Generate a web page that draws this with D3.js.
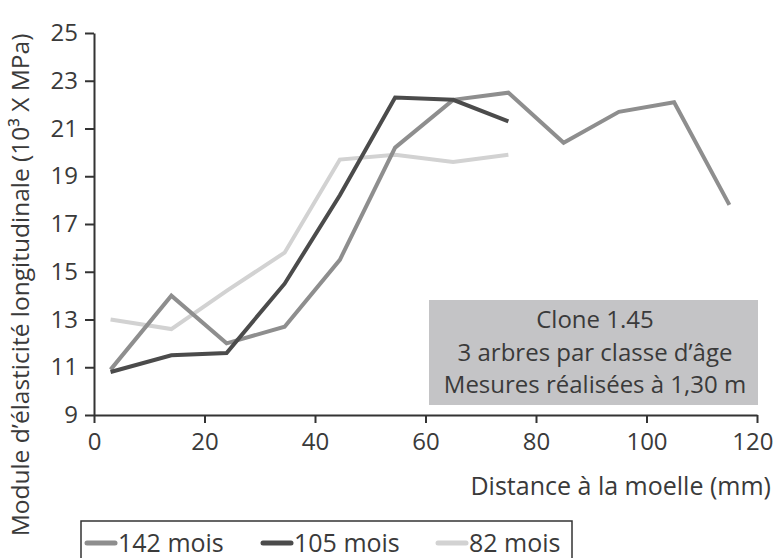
<!DOCTYPE html>
<html lang="fr">
<head>
<meta charset="utf-8">
<script src="https://cdn.jsdelivr.net/npm/d3@7"></script>
<style>
  body { margin: 0; background: #fff; }
  svg text { font-family: "Open Sans", "Noto Sans", sans-serif; fill: #3a3a3a; }
  .axis path, .axis line { stroke: #333; stroke-width: 2px; }
</style>
</head>
<body>
<div id="chart"></div>
<script>
// distances from the pith (mm)
var distances = [3, 14, 24, 34.5, 44.5, 54.5, 65, 75, 85, 95, 105, 115];
// modulus of elasticity (10^3 MPa) per age class
var mod142 = [10.9, 14.0, 12.0, 12.7, 15.5, 20.2, 22.2, 22.5, 20.4, 21.7, 22.1, 17.8];
var mod105 = [10.8, 11.5, 11.6, 14.5, 18.2, 22.3, 22.2, 21.3];
var mod82  = [13.0, 12.6, 14.2, 15.8, 19.7, 19.9, 19.6, 19.9];
var seriesNames = ["142 mois", "105 mois", "82 mois"];
var seriesColors = ["#8e8e8e", "#4b4b4b", "#d2d2d2"];
var xTicks = [0, 20, 40, 60, 80, 100, 120];
var yTicks = [9, 11, 13, 15, 17, 19, 21, 23, 25];
var noteLines = ["Clone 1.45", "3 arbres par classe d\u2019\u00e2ge", "Mesures r\u00e9alis\u00e9es \u00e0 1,30 m"];

var W = 774, H = 558;
var svg = d3.select("#chart").append("svg")
    .attr("width", W)
    .attr("height", H);

// plot area in page pixels
var x = d3.scaleLinear().domain([0, 120]).range([94, 757]);
var y = d3.scaleLinear().domain([9, 25]).range([415, 33]);

// annotation box (drawn under the lines)
var box = svg.append("g");
box.append("rect")
    .attr("x", 429).attr("y", 300)
    .attr("width", 329).attr("height", 105)
    .attr("fill", "#c4c4c6");
box.selectAll("text")
    .data(noteLines)
    .enter().append("text")
    .attr("x", 595)
    .attr("y", function(d, i) { return 328 + i * 32.5; })
    .attr("text-anchor", "middle")
    .style("font-size", "24px")
    .text(function(d) { return d; });

// axes
var xAxis = svg.append("g")
    .attr("class", "axis")
    .attr("transform", "translate(0,415)")
    .call(d3.axisBottom(x).tickValues(xTicks).tickSize(8).tickSizeOuter(0).tickPadding(10));
xAxis.selectAll("text").style("font-size", "24px");
// last label sits against the page edge
xAxis.selectAll(".tick").filter(function(d) { return d === 120; })
    .select("text").attr("text-anchor", "end").attr("x", 16);

var yAxis = svg.append("g")
    .attr("class", "axis")
    .attr("transform", "translate(94,0)")
    .call(d3.axisLeft(y).tickValues(yTicks).tickSize(9).tickSizeOuter(0).tickPadding(7));
yAxis.selectAll("text").style("font-size", "24px");

// lines
var series = [mod142, mod105, mod82].map(function(vals, i) {
    return {
        name: seriesNames[i],
        color: seriesColors[i],
        points: vals.map(function(v, j) { return [distances[j], v]; })
    };
});

var line = d3.line()
    .x(function(d) { return x(d[0]); })
    .y(function(d) { return y(d[1]); });

// draw light first, dark on top like the print
svg.append("g").selectAll("path")
    .data([series[2], series[0], series[1]])
    .enter().append("path")
    .attr("d", function(d) { return line(d.points); })
    .attr("fill", "none")
    .attr("stroke", function(d) { return d.color; })
    .attr("stroke-width", 4)
    .attr("stroke-linejoin", "miter");

// axis titles
svg.append("text")
    .attr("x", 771)
    .attr("y", 495)
    .attr("text-anchor", "end")
    .style("font-size", "25px")
    .text("Distance \u00e0 la moelle (mm)");

svg.append("text")
    .attr("transform", "translate(29,285) rotate(-90)")
    .attr("text-anchor", "middle")
    .style("font-size", "24.5px")
    .text("Module d\u2019\u00e9lasticit\u00e9 longitudinale (10\u00b3 X MPa)");

// legend
var legend = svg.append("g");
legend.append("rect")
    .attr("x", 81).attr("y", 521)
    .attr("width", 491).attr("height", 45)
    .attr("fill", "none")
    .attr("stroke", "#333")
    .attr("stroke-width", 1.5);

var legendX = [87, 263, 438];
var item = legend.selectAll("g.item")
    .data(series)
    .enter().append("g")
    .attr("class", "item")
    .attr("transform", function(d, i) { return "translate(" + legendX[i] + ",543)"; });
item.append("line")
    .attr("x1", 0).attr("x2", 28)
    .attr("stroke", function(d) { return d.color; })
    .attr("stroke-width", 5)
    .attr("stroke-linecap", "round");
item.append("text")
    .attr("x", 31)
    .attr("y", 9)
    .style("font-size", "25px")
    .text(function(d) { return d.name; });
</script>
</body>
</html>
